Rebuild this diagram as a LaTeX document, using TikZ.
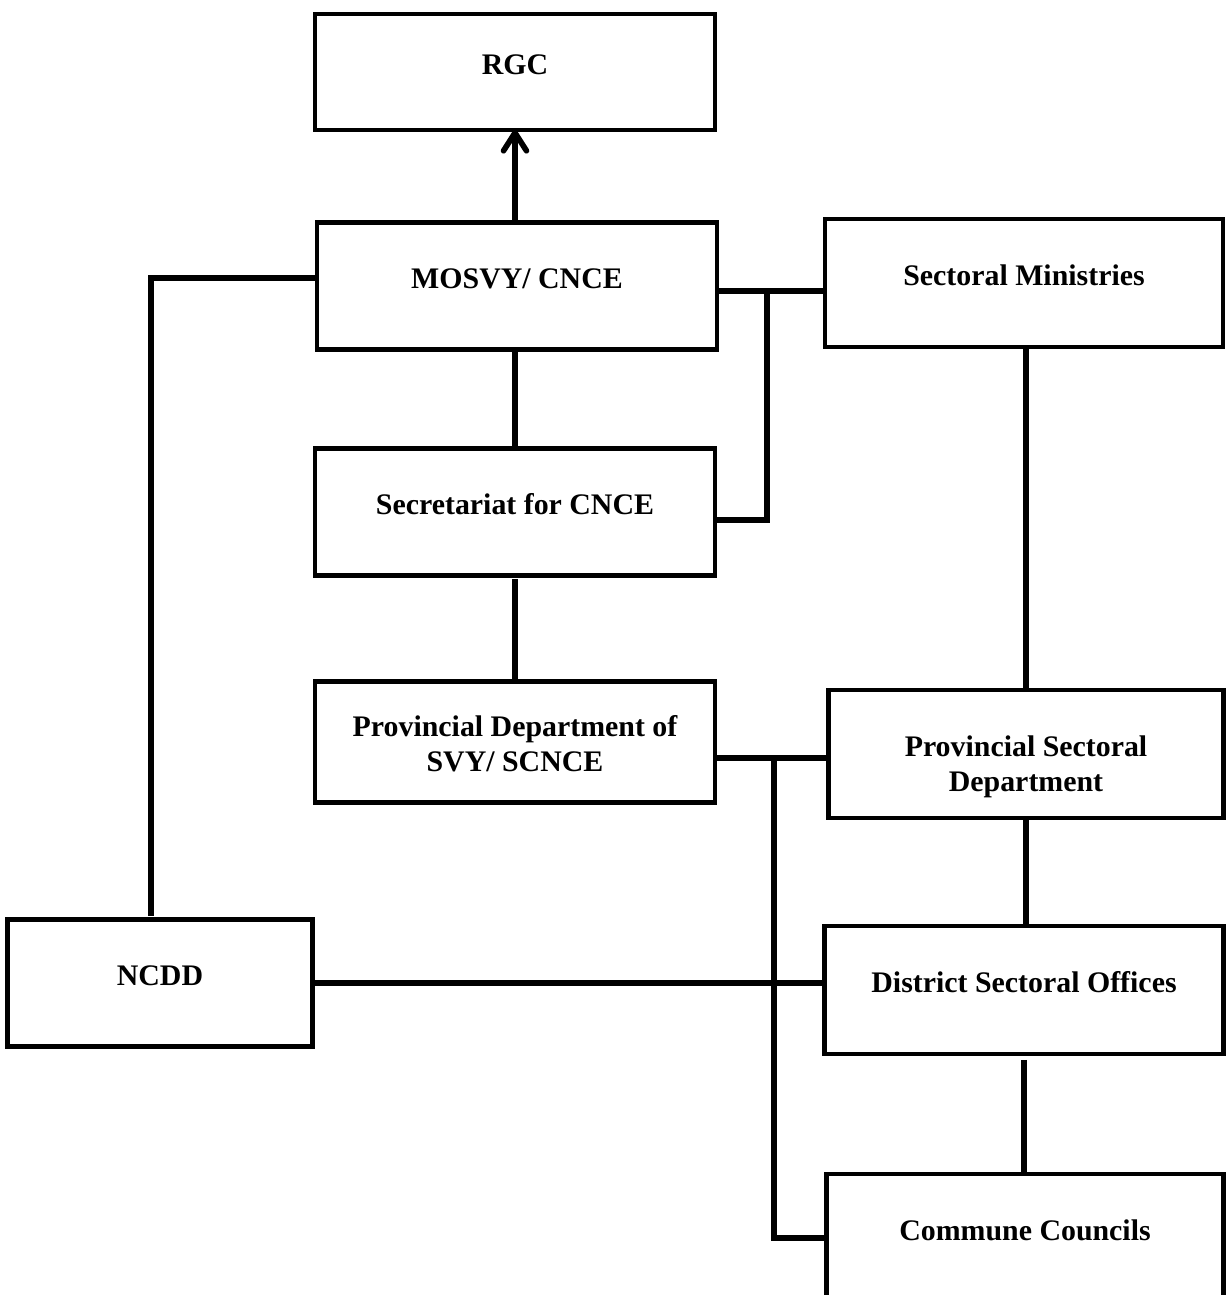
\documentclass[tikz,border=0pt]{standalone}
\usepackage{fontspec}
\setmainfont{Liberation Serif}
\usetikzlibrary{arrows.meta}

\begin{document}
\begin{tikzpicture}[x=0.02cm,y=-0.02cm,
	box/.style={draw,line width=2.6pt,minimum width=8cm,minimum height=2.54cm,
		inner sep=0pt,outer sep=0pt,align=center,
		font=\fontsize{17}{20}\selectfont\bfseries},
	one/.style={text height=0.4cm,text depth=0.32cm},
	two/.style={text height=#1,text depth=0.32cm},
	link/.style={line width=3.2pt}]
	\useasboundingbox (0,0) rectangle (1225,1295);
	%%%%%%%%%%%%%%%
	\node[box,one,minimum height=2.32cm] (rgc) at (515,72) {RGC};
	\node[box,one] (mosvy) at (517,286) {MOSVY/ CNCE};
	\node[box,one,minimum width=7.96cm,minimum height=2.56cm] (secmin) at (1024,283) {Sectoral Ministries};
	\node[box,one] (secr) at (515,512) {Secretariat for CNCE};
	\node[box,two=0.1cm,minimum height=2.42cm] (prov) at (515,742)
		{\begin{tabular}[t]{@{}c@{}}Provincial Department of\\SVY/ SCNCE\end{tabular}};
	\node[box,two=0.4cm,minimum width=7.9cm,minimum height=2.56cm] (provsec) at (1026,754)
		{\begin{tabular}[t]{@{}c@{}}Provincial Sectoral\\Department\end{tabular}};
	\node[box,one,minimum width=6.1cm] (ncdd) at (160,983) {NCDD};
	\node[box,one,minimum width=7.98cm,minimum height=2.56cm] (dist) at (1024,990) {District Sectoral Offices};
	\node[box,one,minimum width=7.94cm,minimum height=2.56cm] (comm) at (1025,1238) {Commune Councils};
	%%%%%%%%%%%%%%%
	\coordinate (n1) at (151,916);
	\coordinate (j1) at (767,291);
	\coordinate (j2) at (774,758);
	%%%%%%%%%%%%%%%
	\draw[link,-{Straight Barb[length=0.36cm,width=0.46cm,line join=round,line cap=round]}] (rgc.south |- mosvy.north) -- (rgc.south);
	\draw[link] (mosvy.west |- 0,278) -| (n1);
	\draw[link] (secr.north |- mosvy.south) -- (secr.north);
	\draw[link] ([yshift=-0.08cm]secr.south) -- (prov.north);
	\draw[link] (mosvy.east |- j1) -- (secmin.west |- j1);
	\draw[link] (secr.east |- 0,520) -| (j1);
	\draw[link] (provsec.south |- secmin.south) -- (provsec.north);
	\draw[link] (prov.east |- j2) -- (provsec.west |- j2);
	\draw[link] (j2) |- (comm.west);
	\draw[link] (ncdd.east) -- (ncdd.east -| dist.west);
	\draw[link] (provsec.south) -- (provsec.south |- dist.north);
	\draw[link] ([yshift=-0.12cm]dist.south) -- (dist.south |- comm.north);
\end{tikzpicture}
\end{document}
